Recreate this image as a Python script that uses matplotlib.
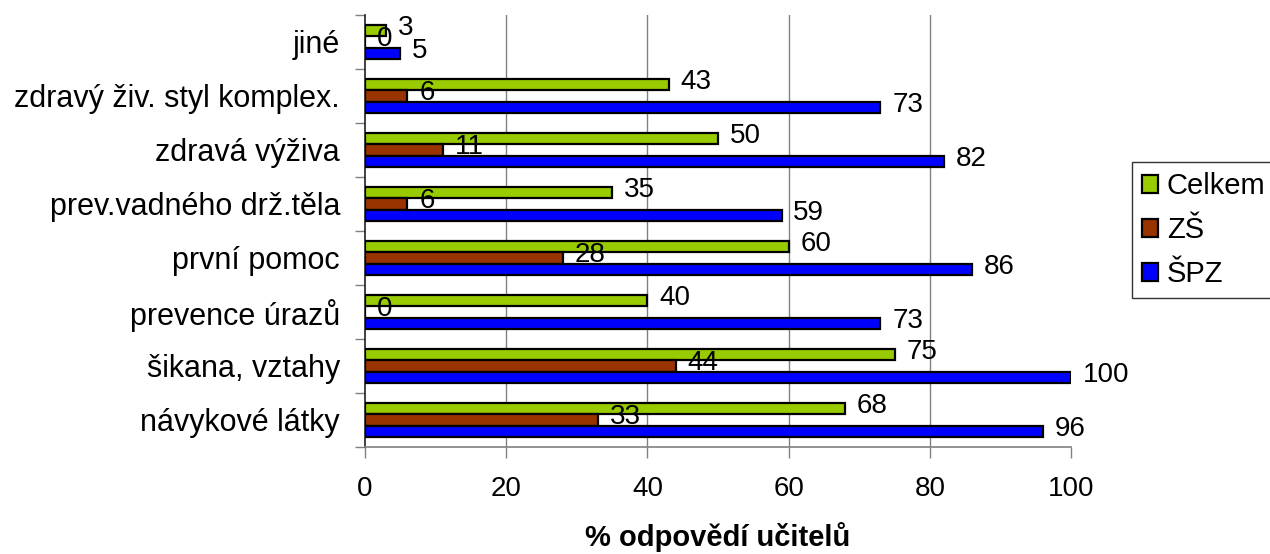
import matplotlib
matplotlib.use("Agg")
import matplotlib.pyplot as plt
import numpy as np

categories = ["návykové látky", "šikana, vztahy", "prevence úrazů", "první pomoc",
              "prev.vadného drž.těla", "zdravá výživa", "zdravý živ. styl komplex.", "jiné"]
series_names = ["Celkem", "ZŠ", "ŠPZ"]
celkem = [68, 75, 40, 60, 35, 50, 43, 3]
zs = [33, 44, 0, 28, 6, 11, 6, 0]
spz = [96, 100, 73, 86, 59, 82, 73, 5]
x_ticks = [0, 20, 40, 60, 80, 100]
x_label = "% odpovědí učitelů"

colors = ["#99CC00", "#993300", "#0000FF"]

plt.rcParams['font.family'] = ['Liberation Sans', 'DejaVu Sans']

fig = plt.figure(figsize=(12.7, 5.54), dpi=100)
ax = fig.add_axes([365/1270, 1-447/554, (1071-365)/1270, (447-15)/554])

y = np.arange(len(categories))
h = 0.215
offsets = [h, 0, -h]
handles = []
for vals, off, col, name in zip([celkem, zs, spz], offsets, colors, series_names):
    b = ax.barh(y + off, vals, height=h, color=col, edgecolor="black", linewidth=1.6, label=name, zorder=3)
    handles.append(b)
    for yi, v in zip(y, vals):
        ax.annotate(str(v), xy=(v, yi + off), xytext=(8.5, 2), textcoords="offset points",
                    ha="left", va="center", fontsize=20, zorder=4)

ax.set_xlim(0, 100)
ax.set_ylim(-0.5, len(categories) - 0.5)
ax.set_xticks(x_ticks)
ax.set_xticklabels([str(t) for t in x_ticks], fontsize=20)
for gx in x_ticks[1:-1]:
    ax.axvline(gx, color="#808080", linewidth=1, zorder=1)

ax.set_yticks(np.arange(len(categories) + 1) - 0.5)
ax.set_yticklabels([])
ax.set_yticks(y, minor=True)
ax.set_yticklabels(categories, minor=True, fontsize=22)
ax.tick_params(axis="y", which="major", length=7, color="#808080", width=1)
ax.tick_params(axis="y", which="minor", length=0, pad=18)
ax.tick_params(axis="x", which="major", length=8, color="#808080", width=1, pad=13)

for s in ["top", "right"]:
    ax.spines[s].set_visible(False)
ax.spines["left"].set_color("#202020")
ax.spines["left"].set_linewidth(1.2)
ax.spines["bottom"].set_color("#808080")
ax.spines["bottom"].set_linewidth(1.2)

ax.set_xlabel(x_label, fontsize=21, fontweight="bold", labelpad=14)

leg = fig.legend(handles=handles, labels=series_names, loc="upper left",
                 bbox_to_anchor=(1132/1270, 1-162/554), fontsize=21, frameon=True,
                 fancybox=False, edgecolor="black", handlelength=0.55, handleheight=0.55,
                 handletextpad=0.3, labelspacing=0.55, borderpad=0.35, borderaxespad=0)
leg.get_frame().set_linewidth(1)

fig.savefig("out.png", dpi=100)
